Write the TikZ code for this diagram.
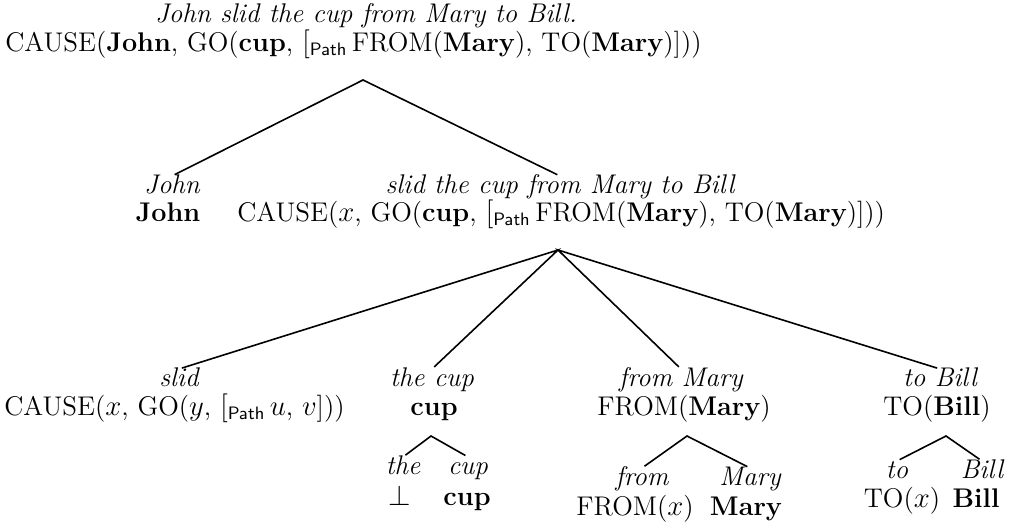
\documentclass[tikz,border=0pt]{standalone}
\usepackage{amsmath}
\usepackage{amssymb}
\newcommand{\pth}{\ensuremath{[_{\mathsf{Path}}}\,}
\tikzset{
  wd/.style={font=\fontsize{13.5}{16}\selectfont\itshape, inner sep=1.5pt, text height=1.6ex, text depth=0.4ex},
  sem/.style={font=\fontsize{13.5}{16}\selectfont, inner sep=1.5pt, text height=1.6ex, text depth=0.4ex},
  br/.style={line width=0.8pt, shorten <=1.5pt, shorten >=1.5pt},
}

\begin{document}
\begin{tikzpicture}[x=0.5pt,y=-0.5pt]
\useasboundingbox (0,0) rectangle (1009,521);
% Satz
\node[wd] (w-root) at (366,17) {John slid the cup from Mary to Bill.};
\node[sem,anchor=west] (m-root) at (2,46) {CAUSE(\textbf{John}, GO(\textbf{cup}, \pth FROM(\textbf{Mary}), TO(\textbf{Mary})]))};
% Subjekt und VP
\node[wd] (w-john) at (172,188) {John};
\node[sem] (m-john) at (168,216) {\textbf{John}};
\node[wd] (w-vp) at (560,188) {slid the cup from Mary to Bill};
\node[sem,anchor=west] (m-vp) at (234,216) {CAUSE($x$, GO(\textbf{cup}, \pth FROM(\textbf{Mary}), TO(\textbf{Mary})]))};
% Verb und Argumente
\node[wd] (w-slid) at (179,381) {slid};
\node[sem,anchor=west] (m-slid) at (1,410) {CAUSE($x$, GO($y$, \pth $u$, $v$]))};
\node[wd] (w-cup) at (432,381) {the cup};
\node[sem] (m-cup) at (434,410) {\textbf{cup}};
\node[wd] (w-from) at (681,381) {from Mary};
\node[sem] (m-from) at (684,410) {FROM(\textbf{Mary})};
\node[wd] (w-to) at (940,381) {to Bill};
\node[sem] (m-to) at (937,410) {TO(\textbf{Bill})};
% Blaetter
\node[wd] (w-the) at (403,469) {the};
\node[sem] (m-the) at (400,500) {$\perp$};
\node[wd] (w-cupn) at (468,469) {cup};
\node[sem] (m-cupn) at (467,500) {\textbf{cup}};
\node[wd] (w-fromp) at (642,480) {from};
\node[sem] (m-fromp) at (635,510) {FROM($x$)};
\node[wd] (w-mary) at (750,480) {Mary};
\node[sem] (m-mary) at (746,510) {\textbf{Mary}};
\node[wd] (w-top) at (897,473) {to};
\node[sem] (m-top) at (902,502) {TO($x$)};
\node[wd] (w-bill) at (982,473) {Bill};
\node[sem] (m-bill) at (976,502) {\textbf{Bill}};
% Verzweigungen
\coordinate (a-root) at (363,80);
\coordinate (a-vp) at (558,250);
\coordinate (a-cup) at (431,436);
\coordinate (a-from) at (687,436);
\coordinate (a-to) at (946,436);
\draw[br] (w-john.north) -- (a-root) -- (w-vp.north);
\draw[br] (w-slid.north) -- (a-vp) -- (w-cup.north);
\draw[br] (w-from.north) -- (a-vp) -- (w-to.north);
\draw[br] (w-the.north) -- (a-cup) -- (w-cupn.north);
\draw[br] (w-fromp.north) -- (a-from) -- (w-mary.north);
\draw[br] (w-top.north) -- (a-to) -- (w-bill.north);
\end{tikzpicture}
\end{document}
